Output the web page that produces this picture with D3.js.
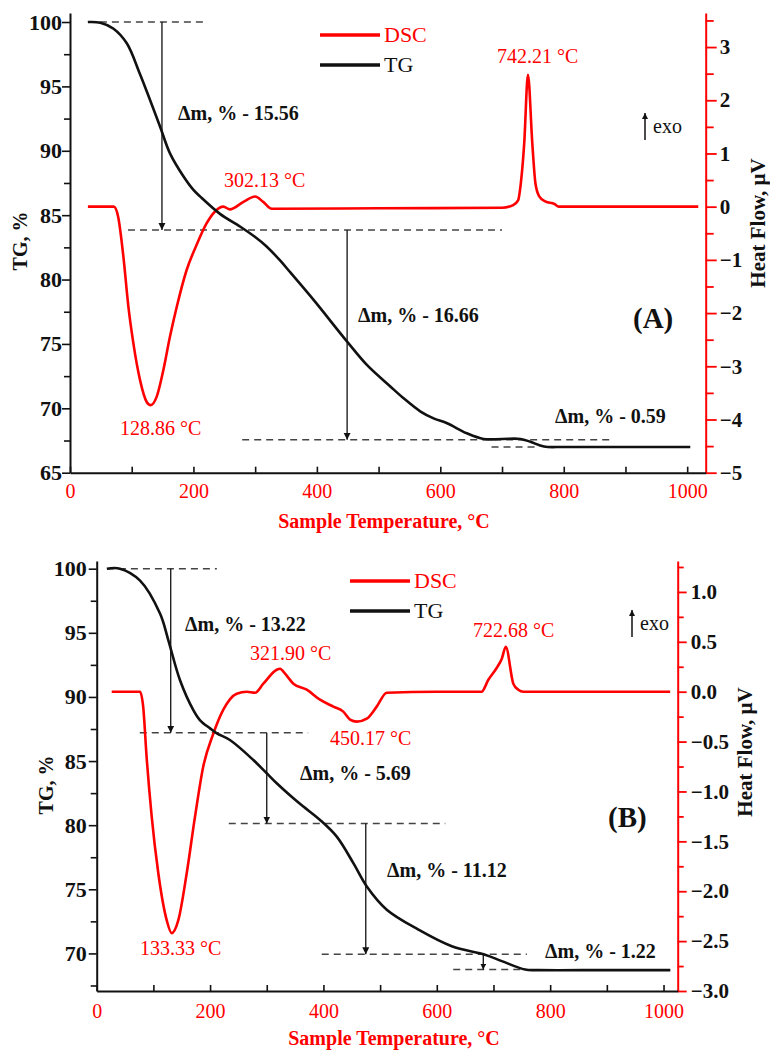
<!DOCTYPE html>
<html><head><meta charset="utf-8">
<script src="https://cdn.jsdelivr.net/npm/d3@7"></script>
<style>body{margin:0;background:#fff}</style>
</head><body><svg id="c" width="770" height="1050"></svg>
<script>
// ---------- DATA ----------
// Panel A
const tgTempA = [29,49,70,92,113,130,146,162,184,200,211,243,276,300,319,340,357,395,449,481,519,540,568,590,611,643,670,700,730,746,768,800,900,1005];
const tgValA  = [100,99.95,99.5,98.35,96.0,93.9,91.87,89.8,88.0,86.96,86.44,85.1,84.1,83.3,82.55,81.5,80.55,78.4,75.18,73.37,71.7,70.8,69.75,69.2,68.84,68.06,67.62,67.62,67.62,67.4,67.03,67.0,67.0,67.0];
const dscTempA = [29,71,78,86.5,94.6,102.7,113.5,124.3,130.8,140.5,151.3,162,173,189,205,221.5,235,248.5,259,281,300,313,327,500,700,718,726,731,736,742,749,754,760,770,785,792,900,1018];
const dscValA  = [0,0,-0.19,-0.94,-1.88,-2.57,-3.26,-3.67,-3.73,-3.57,-3.07,-2.44,-1.88,-1.19,-0.72,-0.31,-0.09,0,-0.05,0.09,0.19,0.09,-0.04,-0.03,-0.02,0.03,0.12,0.5,1.2,2.48,1.2,0.45,0.2,0.1,0.05,0,0,0];
// Panel B
const tgTempB = [18,41,76.5,111.7,126.4,147,170.5,182,200,212,235,276.4,300,317.6,347,364.6,394,423.5,452.8,476.5,511.7,567.5,626.5,685,714.7,755.8,779,900,1012];
const tgValB  = [100,100,99.07,96.5,94.42,91.3,88.97,88.2,87.55,87.16,86.64,85.08,84.05,83.27,82.1,81.45,80.41,79.11,77.04,75.22,73.41,71.86,70.56,69.9,69.4,68.74,68.7,68.7,68.7];
const dscTempB = [26.5,76.4,82,88,97,108.7,123.5,132.3,144,158.8,173.5,188,205.8,223.4,247,264.7,279.3,294,317.6,323.5,332.3,347,370.6,394,417.5,435,447,458.8,476.5,494,511.7,600,679,691,705.9,714.7,721.7,735,743.8,752.8,900,1011.7];
const dscValB  = [0,0,-0.15,-0.65,-1.25,-1.82,-2.29,-2.42,-2.29,-1.82,-1.25,-0.75,-0.42,-0.18,-0.02,0,-0.01,0.08,0.22,0.23,0.18,0.08,0.02,-0.08,-0.15,-0.2,-0.28,-0.30,-0.27,-0.15,-0.01,0,0,0.12,0.24,0.33,0.45,0.08,0.02,0,0,0];

// tick labels
const xTicks = [0,100,200,300,400,500,600,700,800,900,1000];
const tgTicksA = [65,70,75,80,85,90,95,100];
const tgMinorA = [67.5,72.5,77.5,82.5,87.5,92.5,97.5];
const hfTicksA = [-5,-4,-3,-2,-1,0,1,2,3];
const hfMinorA = [-4.5,-3.5,-2.5,-1.5,-0.5,0.5,1.5,2.5,3.5];
const tgTicksB = [70,75,80,85,90,95,100];
const tgMinorB = [67.5,72.5,77.5,82.5,87.5,92.5,97.5];
const hfTicksB = [-3.0,-2.5,-2.0,-1.5,-1.0,-0.5,0.0,0.5,1.0];
const hfMinorB = [-2.75,-2.25,-1.75,-1.25,-0.75,-0.25,0.25,0.75,1.25];

// mass-loss steps: [temperature of arrow, TG from, TG to]
const stepsA = [[149,100,83.85],[449,83.85,67.55]];
const stepsB = [[130.6,100,87.2],[300,87.2,80.13],[474.7,80.13,69.93],[682,69.93,68.74]];
// dashed reference levels: [TG, T start, T end]
const levelsA = [[100,29,219],[83.85,94,700],[67.55,279,880],[67.0,683,754]];
const levelsB = [[100,18,212],[87.2,76,373],[80.13,233,615],[69.93,397,759],[68.74,629,756]];

const labelsA = { steps:["Δm, % - 15.56","Δm, % - 16.66","Δm, % - 0.59"], peaks:["302.13 °C","128.86 °C","742.21 °C"], tag:"(A)" };
const labelsB = { steps:["Δm, % - 13.22","Δm, % - 5.69","Δm, % - 11.12","Δm, % - 1.22"], peaks:["321.90 °C","450.17 °C","133.33 °C","722.68 °C"], tag:"(B)" };

// ---------- DRAW ----------
const svg = d3.select('#c');
const F = "'Liberation Serif','Times New Roman',serif";
const RED = '#ff0000';
svg.append('rect').attr('width',770).attr('height',1050).attr('fill','#fff');
const defs = svg.append('defs');
defs.append('marker').attr('id','ah').attr('viewBox','0 0 10 10').attr('refX',10).attr('refY',5)
  .attr('markerWidth',7).attr('markerHeight',11).attr('markerUnits','userSpaceOnUse').attr('orient','auto')
  .append('path').attr('d','M0,0L10,5L0,10z').attr('fill','#111');
defs.append('marker').attr('id','ahs').attr('viewBox','0 0 10 10').attr('refX',10).attr('refY',5)
  .attr('markerWidth',6).attr('markerHeight',6).attr('markerUnits','userSpaceOnUse').attr('orient','auto')
  .append('path').attr('d','M0,0L10,5L0,10z').attr('fill','#111');

function txt(g, x, y, s, o) {
  o = o || {};
  return g.append('text').attr('x',x).attr('y',y).text(s)
    .attr('font-family',F).attr('font-size',o.size||20).attr('font-weight',o.bold?'bold':'normal')
    .attr('fill',o.fill||'#111').attr('text-anchor',o.anchor||'start');
}

function panel(p) {
  const g = svg.append('g');
  const x = d3.scaleLinear().domain([0,p.xMax]).range([p.left,p.right]);
  const yT = d3.scaleLinear().domain(p.tgDom).range([p.bottom,p.top]);
  const yH = d3.scaleLinear().domain(p.hfDom).range([p.bottom,p.top]);

  // dashed levels
  g.selectAll('line.lev').data(p.levels).enter().append('line')
    .attr('x1',d=>x(d[1])).attr('x2',d=>x(d[2])).attr('y1',d=>yT(d[0])).attr('y2',d=>yT(d[0]))
    .attr('stroke','#444').attr('stroke-width',1.5).attr('stroke-dasharray','7,5');
  // step arrows
  g.selectAll('line.st').data(p.steps).enter().append('line')
    .attr('x1',d=>x(d[0])).attr('x2',d=>x(d[0])).attr('y1',d=>yT(d[1])).attr('y2',d=>yT(d[2]))
    .attr('stroke','#111').attr('stroke-width',1.3)
    .attr('marker-end',d=>(yT(d[2])-yT(d[1])<30)?'url(#ahs)':'url(#ah)');

  // curves
  const dsc = p.dscT.map((t,i)=>[t,p.dscV[i]]);
  const tg = p.tgT.map((t,i)=>[t,p.tgV[i]]);
  g.append('path').datum(dsc).attr('fill','none').attr('stroke',RED).attr('stroke-width',2.6)
    .attr('stroke-linejoin','round')
    .attr('d',d3.line().x(d=>x(d[0])).y(d=>yH(d[1])).curve(d3.curveMonotoneX));
  g.append('path').datum(tg).attr('fill','none').attr('stroke','#111').attr('stroke-width',2.6)
    .attr('stroke-linejoin','round')
    .attr('d',d3.line().x(d=>x(d[0])).y(d=>yT(d[1])).curve(d3.curveCatmullRom.alpha(0.5)));

  // left axis
  const la = g.append('g').attr('transform',`translate(${p.left},0)`)
    .call(d3.axisLeft(yT).tickValues(p.tgTicks).tickSize(8).tickSizeOuter(0).tickPadding(p.lPad).tickFormat(d3.format('d')));
  la.select('.domain').attr('stroke','#111').attr('stroke-width',2);
  la.selectAll('.tick line').attr('stroke','#111').attr('stroke-width',1.6);
  la.selectAll('text').attr('font-family',F).attr('font-size',22).attr('font-weight','bold').attr('fill','#111');
  const lm = g.append('g').attr('transform',`translate(${p.left},0)`)
    .call(d3.axisLeft(yT).tickValues(p.tgMinor).tickSize(6).tickSizeOuter(0).tickFormat(''));
  lm.select('.domain').remove();
  lm.selectAll('.tick line').attr('stroke','#111').attr('stroke-width',1.6);

  // right axis
  const ra = g.append('g').attr('transform',`translate(${p.right},0)`)
    .call(d3.axisRight(yH).tickValues(p.hfTicks).tickSize(p.rTick).tickSizeOuter(0).tickPadding(p.rPad).tickFormat(p.hfFmt));
  ra.select('.domain').attr('stroke',RED).attr('stroke-width',2);
  ra.selectAll('.tick line').attr('stroke',RED).attr('stroke-width',1.8);
  ra.selectAll('text').attr('font-family',F).attr('font-size',21).attr('font-weight','bold').attr('fill','#111');
  const rm = g.append('g').attr('transform',`translate(${p.right},0)`)
    .call(d3.axisRight(yH).tickValues(p.hfMinor).tickSize(p.rTick-3).tickSizeOuter(0).tickFormat(''));
  rm.select('.domain').remove();
  rm.selectAll('.tick line').attr('stroke',RED).attr('stroke-width',1.8);

  // bottom axis
  const ba = g.append('g').attr('transform',`translate(0,${p.bottom})`)
    .call(d3.axisBottom(x).tickValues(xTicks).tickSizeInner(-6).tickSizeOuter(0).tickFormat(d=>d%200===0?d:''));
  ba.select('.domain').attr('stroke','#111').attr('stroke-width',2);
  ba.selectAll('.tick line').attr('stroke','#111').attr('stroke-width',1.6);
  ba.selectAll('text').attr('dy',null).attr('y',p.xLabY).attr('font-family',F).attr('font-size',20)
    .attr('fill',RED).attr('font-weight','normal');

  // axis titles
  txt(g, 0, 0, 'TG, %', {bold:true, size:20, anchor:'middle'})
    .attr('transform',`translate(${p.tgTitle[0]},${p.tgTitle[1]}) rotate(-90)`);
  txt(g, 0, 0, 'Heat Flow, µV', {bold:true, size:21, anchor:'middle'})
    .attr('transform',`translate(${p.hfTitle[0]},${p.hfTitle[1]}) rotate(-90)`);
  txt(g, p.xTitle[0], p.xTitle[1], 'Sample Temperature, °C', {bold:true, size:20, anchor:'middle', fill:RED});

  // legend
  g.append('line').attr('x1',p.leg[0]).attr('x2',p.leg[0]+60).attr('y1',p.leg[1]).attr('y2',p.leg[1]).attr('stroke',RED).attr('stroke-width',3.5);
  g.append('line').attr('x1',p.leg[0]).attr('x2',p.leg[0]+60).attr('y1',p.leg[1]+30).attr('y2',p.leg[1]+30).attr('stroke','#111').attr('stroke-width',3.5);
  txt(g, p.leg[0]+64, p.leg[1]+7, 'DSC', {size:22, fill:RED});
  txt(g, p.leg[0]+64, p.leg[1]+37, 'TG', {size:22});

  // exo
  g.append('line').attr('x1',p.exo[0]).attr('x2',p.exo[0]).attr('y1',p.exo[1]+27).attr('y2',p.exo[1])
    .attr('stroke','#111').attr('stroke-width',1.5).attr('marker-end','url(#ahs)');
  txt(g, p.exo[0]+8, p.exo[1]+20, 'exo', {size:20});

  // annotations
  p.stepPos.forEach((q,i)=>txt(g,q[0],q[1],p.labels.steps[i],{bold:true,size:20}));
  p.peakPos.forEach((q,i)=>txt(g,q[0],q[1],p.labels.peaks[i],{size:20,fill:RED}));
  txt(g, p.tagPos[0], p.tagPos[1], p.labels.tag, {bold:true, size:29});
}

panel({
  left:70, right:705.7, top:13, bottom:472.7, xMax:1030,
  tgDom:[65,100.7], hfDom:[-5,3.64],
  tgT:tgTempA, tgV:tgValA, dscT:dscTempA, dscV:dscValA,
  tgTicks:tgTicksA, tgMinor:tgMinorA, hfTicks:hfTicksA, hfMinor:hfMinorA,
  hfFmt:d3.format('d'), lPad:0, rTick:11, rPad:3, xLabY:25,
  steps:stepsA, levels:levelsA, labels:labelsA,
  tgTitle:[27,241], hfTitle:[765,223], xTitle:[384,528],
  leg:[320,35], exo:[645,113],
  stepPos:[[178,120],[358,322],[555,423]],
  peakPos:[[224,187],[120,435],[497,63]],
  tagPos:[633,328]
});
panel({
  left:96.7, right:677.7, top:561, bottom:991, xMax:1025,
  tgDom:[67.07,100.6], hfDom:[-3.0,1.31],
  tgT:tgTempB, tgV:tgValB, dscT:dscTempB, dscV:dscValB,
  tgTicks:tgTicksB, tgMinor:tgMinorB, hfTicks:hfTicksB, hfMinor:hfMinorB,
  hfFmt:d3.format('.1f'), lPad:2, rTick:9, rPad:4, xLabY:27,
  steps:stepsB, levels:levelsB, labels:labelsB,
  tgTitle:[53,785], hfTitle:[752,752], xTitle:[394,1045],
  leg:[350,581], exo:[632,610],
  stepPos:[[185,631],[300,780],[387,877],[545,958]],
  peakPos:[[250,660],[330,745],[140,955],[473,637]],
  tagPos:[608,827]
});
</script></body></html>
